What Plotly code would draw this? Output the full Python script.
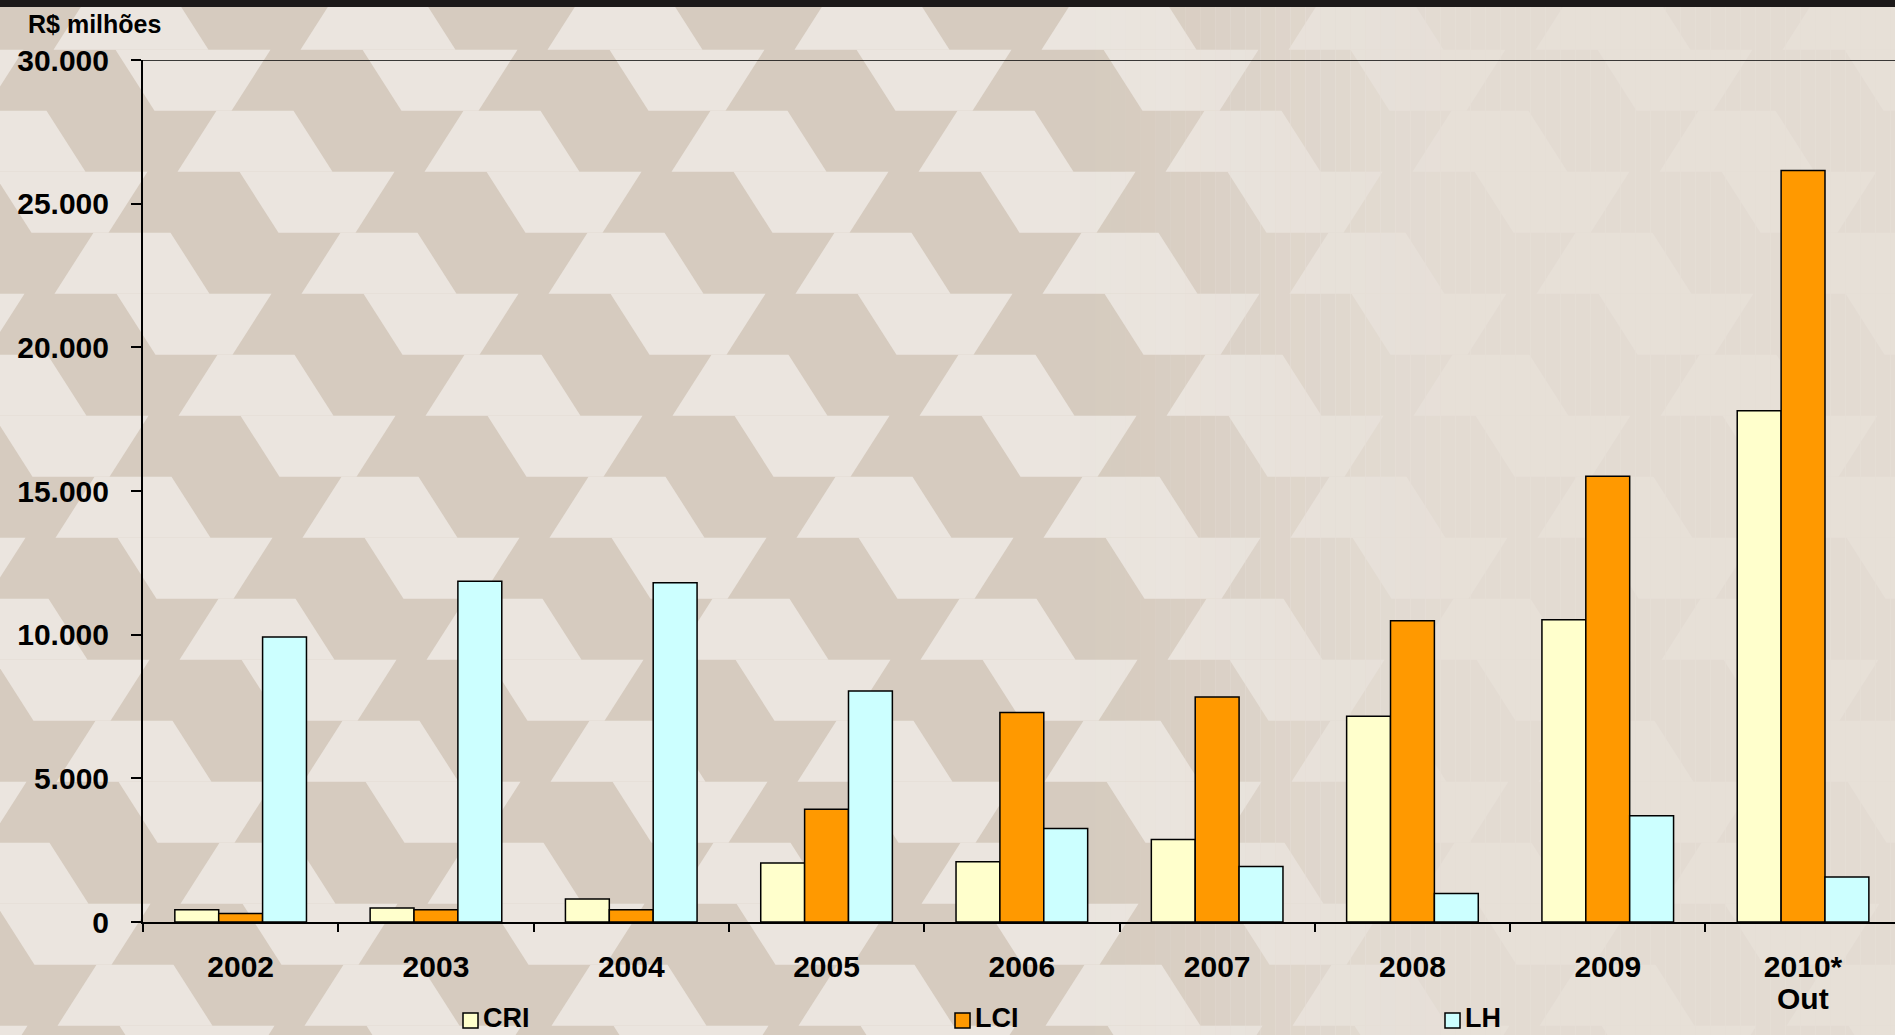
import base64
import plotly.graph_objects as go

# ---- data (R$ milhões) ----
years = ["2002", "2003", "2004", "2005", "2006", "2007", "2008", "2009", "2010*"]
last_year_note = "Out"
cri = [430, 490, 800, 2050, 2100, 2870, 7160, 10520, 17790]
lci = [300, 430, 430, 3920, 7290, 7830, 10480, 15510, 26150]
lh = [9920, 11860, 11810, 8040, 3250, 1930, 990, 3700, 1570]
series_names = ["CRI", "LCI", "LH"]
y_tick_values = [0, 5000, 10000, 15000, 20000, 25000, 30000]
unit_label = "R$ milhões"

# ---- styling ----
colors = {"CRI": "#ffffcc", "LCI": "#ff9900", "LH": "#ccffff"}
FONT = "Liberation Sans, Arial, sans-serif"
W, H = 1895, 1035
ML, MR, MT, MB = 143, 0, 60, 113
PW, PH = W - ML - MR, H - MT - MB
CAT_PX = 195.3  # width of one year slot


def paper_x(px):
    return (px - ML) / PW


def paper_y(py):
    return (H - MB - py) / PH


def background_svg():
    """Beige hexagonal pavement motif, fading out towards the right."""
    P, a, b, h = 247, 77, 155, 61
    y0, cx0, shift = 110.7, 749, 62
    polys = []
    for j in range(-3, 17):
        top = y0 + j * h
        bot = top + h
        tw, bw = (a, b) if j % 2 == 0 else (b, a)
        x = (cx0 + shift * j) % P - P
        while x - b / 2 < W + P:
            pts = (f"{x - tw / 2:.1f},{top:.1f} {x + tw / 2:.1f},{top:.1f} "
                   f"{x + bw / 2:.1f},{bot:.1f} {x - bw / 2:.1f},{bot:.1f}")
            polys.append(f'<polygon points="{pts}"/>')
            x += P
    # wash strips: motif contrast fades between x=1050 and x=1450
    wash = []
    step = 15
    for x in range(0, W, step):
        t = min(max((x + step / 2 - 1050) / 400, 0), 1)
        t = t * t * (3 - 2 * t)
        op = 0.82 * t
        if op > 0.005:
            wash.append(f'<rect x="{x}" y="0" width="{step + 1}" height="{H}" '
                        f'fill="#e5ded6" fill-opacity="{op:.3f}"/>')
    svg = (f'<svg xmlns="http://www.w3.org/2000/svg" width="{W}" height="{H}" '
           f'viewBox="0 0 {W} {H}">'
           f'<rect x="0" y="0" width="{W}" height="{H}" fill="#d6cbbf"/>'
           f'<g fill="#ebe5df">{"".join(polys)}</g>'
           f'{"".join(wash)}'
           f'<rect x="0" y="0" width="{W}" height="7" fill="#1c1919"/>'
           f'</svg>')
    return "data:image/svg+xml;base64," + base64.b64encode(svg.encode()).decode()


fig = go.Figure()
for name, values in zip(series_names, [cri, lci, lh]):
    fig.add_trace(go.Bar(
        x=years, y=values, name=name,
        marker=dict(color=colors[name], line=dict(color="black", width=1.5)),
        showlegend=False,
    ))

fig.update_layout(
    width=W, height=H,
    margin=dict(l=ML, r=MR, t=MT, b=MB, pad=0),
    paper_bgcolor="#e2dad1",
    plot_bgcolor="rgba(0,0,0,0)",
    barmode="group", bargap=0.326, bargroupgap=0,
    separators=",.",
    font=dict(family=FONT, color="black"),
    images=[dict(
        source=background_svg(), xref="paper", yref="paper",
        x=paper_x(0), y=paper_y(0), sizex=W / PW, sizey=H / PH,
        xanchor="left", yanchor="top", sizing="stretch", layer="below",
    )],
)

fig.update_xaxes(
    type="category", range=[-0.5, -0.5 + PW / CAT_PX],
    showline=True, linecolor="black", linewidth=2,
    ticks="outside", tickson="boundaries", ticklen=8, tickwidth=2, tickcolor="black",
    tickfont=dict(family=FONT, size=30, weight="bold", color="black"),
    ticklabelstandoff=17,
    showgrid=False, zeroline=False, fixedrange=True,
)
fig.update_yaxes(
    range=[0, 30000], tickvals=y_tick_values, tickformat=",.0f",
    showline=True, linecolor="black", linewidth=2,
    ticks="outside", ticklen=10, tickwidth=1.5, tickcolor="black",
    tickfont=dict(family=FONT, size=30, weight="bold", color="black"),
    ticklabelstandoff=16,
    showgrid=False, zeroline=False, fixedrange=True,
)

# top border of the value scale
fig.add_shape(type="line", xref="paper", yref="y",
              x0=paper_x(133), x1=1, y0=y_tick_values[-1], y1=y_tick_values[-1],
              line=dict(color="black", width=1.5))

# second line of the last year label
fig.add_annotation(x=years[-1], xref="x", y=paper_y(998), yref="paper",
                   text=last_year_note, showarrow=False, yanchor="middle",
                   font=dict(family=FONT, size=30, weight="bold", color="black"))

# unit label
fig.add_annotation(x=paper_x(26), xref="paper", y=paper_y(24), yref="paper",
                   text=unit_label, showarrow=False, xanchor="left", yanchor="middle",
                   font=dict(family=FONT, size=25, weight="bold", color="black"))

# legend row
legend_box_left = [463, 955, 1445]
for name, bx in zip(series_names, legend_box_left):
    fig.add_shape(type="rect", xref="paper", yref="paper",
                  x0=paper_x(bx), x1=paper_x(bx + 15), y0=paper_y(1028), y1=paper_y(1013),
                  fillcolor=colors[name], line=dict(color="black", width=1.5))
    fig.add_annotation(x=paper_x(bx + 19), xref="paper", y=paper_y(1018), yref="paper",
                       text=name, showarrow=False, xanchor="left", yanchor="middle",
                       borderpad=0,
                       font=dict(family=FONT, size=27, weight="bold", color="black"))

fig.write_html("out.html", config={"displayModeBar": False})
